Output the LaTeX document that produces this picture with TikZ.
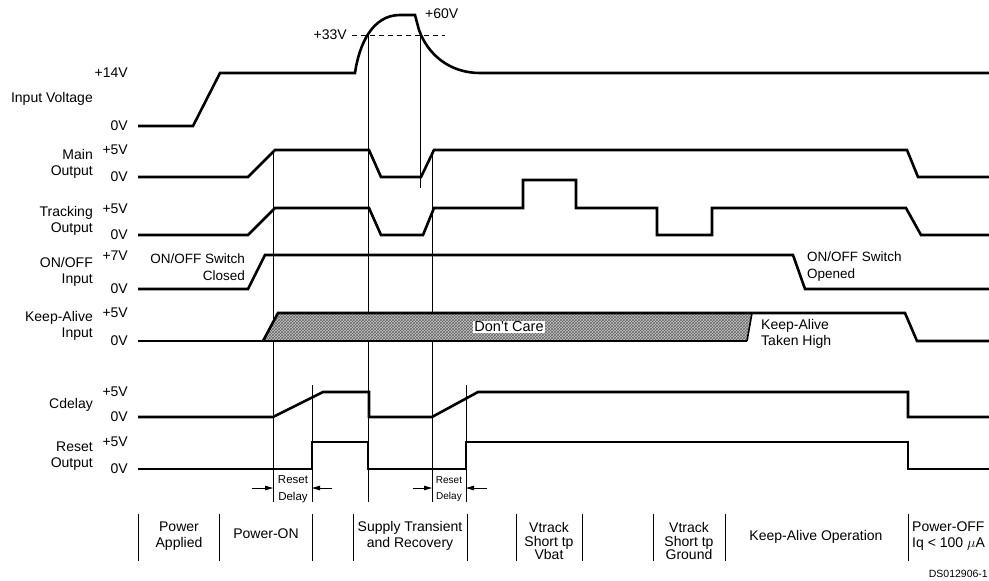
\documentclass[tikz,border=0pt]{standalone}
\usepackage{fontspec}
\setmainfont{Liberation Sans}
\usepackage{tikz}
\usetikzlibrary{arrows.meta,patterns}
\definecolor{ink}{HTML}{000000}
\tikzset{
  wv/.style={draw=ink, line width=2.6pt},
  gd/.style={draw=ink, line width=0.9pt},
  sg/.style={font=\fontsize{14}{16}\selectfont, align=right, anchor=east, inner sep=0pt},
  lv/.style={font=\fontsize{14}{16}\selectfont, anchor=east, inner sep=0pt},
  ph/.style={font=\fontsize{14}{16}\selectfont, align=center, inner sep=0pt},
  nt/.style={font=\fontsize{13.5}{17}\selectfont, inner sep=0pt},
  ar/.style={-{Triangle[length=8pt,width=4.5pt]}, line width=0.9pt},
}

\begin{document}
\begin{tikzpicture}[x=1pt,y=-1pt]
\useasboundingbox (0,0) rectangle (989,581);

% signal names
\node[sg] (nin) at (93,99) {Input Voltage};
\node[sg] (nmain) at (93,164) {Main\\Output};
\node[sg] (ntrk) at (93,221) {Tracking\\Output};
\node[sg] (nonoff) at (93,272) {ON/OFF\\Input};
\node[sg] (nka) at (93,326) {Keep-Alive\\Input};
\node[sg] (ncd) at (93,405) {Cdelay};
\node[sg] (nrst) at (93,456) {Reset\\Output};

% levels
\node[lv] (l1h) at (128,73) {+14V};  \node[lv] (l1l) at (128,126) {0V};
\node[lv] (l2h) at (128,150) {+5V};  \node[lv] (l2l) at (128,177) {0V};
\node[lv] (l3h) at (128,209) {+5V};  \node[lv] (l3l) at (128,235) {0V};
\node[lv] (l4h) at (128,256) {+7V};  \node[lv] (l4l) at (128,289) {0V};
\node[lv] (l5h) at (128,313) {+5V};  \node[lv] (l5l) at (128,341) {0V};
\node[lv] (l6h) at (128,392) {+5V};  \node[lv] (l6l) at (128,417) {0V};
\node[lv] (l7h) at (128,442) {+5V};  \node[lv] (l7l) at (128,469) {0V};

% guides
\draw[gd] (273,150) -- (273,502);
\draw[gd] (312,385) -- (312,502);
\draw[gd] (368,35) -- (368,502);
\draw[gd] (420,35) -- (420,188);
\draw[gd] (432,150) -- (432,502);
\draw[gd] (466,385) -- (466,502);
\draw[gd, dash pattern=on 5pt off 4pt] (352,35) -- (445,35);
\node[lv] (v33) at (347,35) {+33V};
\node[lv, anchor=west] (v60) at (425,14) {+60V};

% input voltage
\draw[wv] (138,126) -- (193,126) -- (220,73) -- (355,73)
  .. controls (359,45) and (372,15) .. (400,15) -- (415,15) -- (419,30)
  .. controls (428,55) and (450,73) .. (480,73) -- (989,73);

% main output
\draw[wv] (138,177) -- (248,177) -- (275,150) -- (369,150) -- (381,177) -- (421,177)
  -- (434,150) -- (907,150) -- (918,177) -- (989,177);

% tracking output
\draw[wv] (138,235) -- (248,235) -- (275,208) -- (369,208) -- (381,235) -- (423,235)
  -- (434,208) -- (523,208) -- (523,180) -- (576,180) -- (576,208) -- (657,208)
  -- (657,235) -- (712,235) -- (712,208) -- (906,208) -- (921,235) -- (989,235);

% on/off input
\draw[wv] (138,289) -- (248,289) -- (265,255) -- (793,255) -- (805,289) -- (989,289);
\node[nt, align=right, anchor=east] (swc) at (245,267) {ON/OFF Switch\\Closed};
\node[nt, align=left, anchor=west] (swo) at (807,267) {ON/OFF Switch\\Opened};

% keep-alive input
\fill[black!22] (263,341) -- (278,313) -- (752,313) -- (747,341) -- cycle;
\fill[pattern=crosshatch, pattern color=black!60] (263,341) -- (278,313) -- (752,313) -- (747,341) -- cycle;
\draw[wv] (138,341) -- (747,341);
\draw[wv] (263,341) -- (278,313) -- (905,313) -- (917,341) -- (989,341);
\draw[gd, line width=1.6pt] (752,313) -- (747,341);
\node[nt, font=\fontsize{14.5}{17}\selectfont, fill=white, inner sep=1pt] (dc) at (509,327) {Don't Care};
\node[nt, font=\fontsize{14}{16}\selectfont, align=left, anchor=west] (kah) at (761,334) {Keep-Alive\\Taken High};

% cdelay
\draw[wv] (138,417) -- (273,417) -- (323,392) -- (369,392) -- (369,417) -- (432,417)
  -- (478,392) -- (908,392) -- (908,417) -- (989,417);

% reset output
\draw[wv] (138,469) -- (312,469) -- (312,442) -- (368,442) -- (368,469) -- (466,469)
  -- (466,442) -- (908,442) -- (908,469) -- (989,469);

% reset delay
\draw[ar] (252,488) -- (273,488);
\draw[ar] (332,488) -- (312,488);
\node[nt, font=\fontsize{11.5}{17}\selectfont, align=center] (rd1) at (293,489) {Reset\\Delay};
\draw[ar] (413,488) -- (432,488);
\draw[ar] (487,488) -- (466,488);
\node[nt, font=\fontsize{10}{16}\selectfont, align=center] (rd2) at (449,489) {Reset\\Delay};

% phases
\foreach \px in {138,219,312,353,467,516,582,653,725,908}
  \draw[gd] (\px,514) -- (\px,561);
\node[ph] (p1) at (179,536) {Power\\Applied};
\node[ph] (p2) at (266,534) {Power-ON};
\node[ph] (p3) at (410,536) {Supply Transient\\and Recovery};
\node[ph, font=\fontsize{14}{13.5}\selectfont] (p4) at (549,541) {Vtrack\\Short tp\\Vbat};
\node[ph, font=\fontsize{14}{13.5}\selectfont] (p5) at (689,541) {Vtrack\\Short tp\\Ground};
\node[ph] (p6) at (816,537) {Keep-Alive Operation};
\node[ph, align=left, anchor=west] (p7) at (912,536) {Power-OFF\\Iq < 100 $\mu$A};

\node[inner sep=0pt, anchor=east, font=\fontsize{10.5}{12}\selectfont] (ds) at (988,574) {DS012906-1};
\end{tikzpicture}
\end{document}
